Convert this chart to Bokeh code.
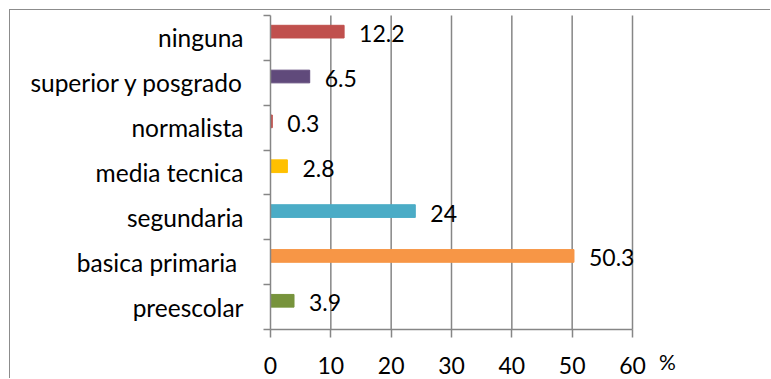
from bokeh.plotting import figure
from bokeh.models import Range1d, FixedTicker, ColumnDataSource
from bokeh.core.properties import value
from bokeh.embed import file_html
from bokeh.resources import INLINE

# Nivel educativo (bottom to top) and share of population, %
categories = ["preescolar", "basica primaria\u00a0", "segundaria", "media tecnica",
              "normalista", "superior y posgrado", "ninguna"]
percentages = [3.9, 50.3, 24, 2.8, 0.3, 6.5, 12.2]
value_labels = ["3.9", "50.3", "24", "2.8", "0.3", "6.5", "12.2"]
bar_colors = ["#77933C", "#F79646", "#4BACC6", "#FFC000",
              "#C0504D", "#604A7B", "#C0504D"]
x_ticks = [0, 10, 20, 30, 40, 50, 60]
unit_label = "%"

FONT = "Lato"
GRAY = "#868686"
LINE_W = 1.5

# canvas size and where the value axis / category axis sit on it (px)
W, H = 761, 369
X0_PX, X60_PX = 260, 622      # x = 0 and x = 60
YTOP_PX, YBOT_PX = 5, 319     # top and bottom of the category bands

n = len(categories)
x_max = x_ticks[-1]
px_per_x = (X60_PX - X0_PX) / x_max
px_per_y = (YBOT_PX - YTOP_PX) / n
x_range = Range1d(-X0_PX / px_per_x, x_max + (W - X60_PX) / px_per_x)
y_range = Range1d(-(H - YBOT_PX) / px_per_y, n + YTOP_PX / px_per_y)

centers = [i + 0.5 for i in range(n)]
bar_y = [c + 0.14 for c in centers]

src = ColumnDataSource(dict(y=bar_y, right=percentages, color=bar_colors,
                            label=value_labels))

# a thin frame line runs along the top and left of the chart
p = figure(width=W, height=H, output_backend="svg", toolbar_location=None,
           x_range=x_range, y_range=y_range,
           min_border=0, min_border_left=0, min_border_right=0,
           min_border_top=0, min_border_bottom=0,
           margin=(9, 0, 0, 9),
           styles={"border-top": "1px solid #8c8c8c",
                   "border-left": "1px solid #8c8c8c"})
p.outline_line_color = None
p.background_fill_color = "white"
p.border_fill_color = "white"
p.xgrid.visible = False
p.ygrid.visible = False

# vertical gridlines over the category bands only
grid_x = x_ticks[1:]
p.segment(x0=grid_x, y0=[0] * len(grid_x), x1=grid_x, y1=[n] * len(grid_x),
          line_color=GRAY, line_width=LINE_W)

p.hbar(y="y", left=0, right="right", height=0.283, color="color", source=src)

p.text(x="right", y="y", text="label", source=src, x_offset=15, y_offset=2,
       text_font=value(FONT), text_font_size="23px", text_color="black",
       text_baseline="middle", text_align="left")

# x axis at y = 0
xa = p.xaxis[0]
xa.fixed_location = 0
xa.bounds = (0, x_max)
xa.ticker = FixedTicker(ticks=x_ticks)
xa.axis_line_color = GRAY
xa.axis_line_width = LINE_W
xa.major_tick_line_color = GRAY
xa.major_tick_line_width = LINE_W
xa.major_tick_in = 0
xa.major_tick_out = 8
xa.minor_tick_line_color = None
xa.major_label_text_font = FONT
xa.major_label_text_font_size = "23px"
xa.major_label_text_color = "black"
xa.major_label_standoff = 19

# unit marker to the right of the last tick label
p.text(x=[65.8], y=[-0.72], text=[unit_label], text_font=value(FONT),
       text_font_size="21px", text_color="black", text_align="center",
       text_baseline="middle")

# y axis at x = 0: names at band centres, tick marks at band boundaries
ya = p.yaxis[0]
ya.fixed_location = 0
ya.bounds = (0, n)
ya.ticker = FixedTicker(ticks=centers, minor_ticks=list(range(n + 1)))
ya.major_label_overrides = {c: name for c, name in zip(centers, categories)}
ya.axis_line_color = GRAY
ya.axis_line_width = LINE_W
ya.major_tick_line_color = None
ya.major_tick_in = 0
ya.major_tick_out = 0
ya.minor_tick_line_color = GRAY
ya.minor_tick_line_width = LINE_W
ya.minor_tick_in = 0
ya.minor_tick_out = 7
ya.major_label_text_font = FONT
ya.major_label_text_font_size = "24.5px"
ya.major_label_text_color = "black"
ya.major_label_standoff = 20

open("out.html", "w").write(file_html(p, INLINE))
